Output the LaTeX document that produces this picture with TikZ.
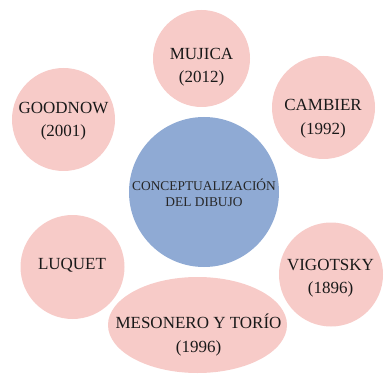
\documentclass[tikz,border=0pt]{standalone}
\usepackage{fontspec}
\setmainfont{Liberation Serif}
\usetikzlibrary{shapes.geometric}
\definecolor{pinkc}{RGB}{247,203,200}
\definecolor{bluec}{RGB}{143,170,212}
\begin{document}
\begin{tikzpicture}[x=1pt,y=-1pt,
  pinkcirc/.style={circle,fill=pinkc,draw=none,inner sep=0pt},
  bluecirc/.style={circle,fill=bluec,draw=none,inner sep=0pt},
  lbl/.style={align=center,text=black!90,inner sep=0pt,font=\fontsize{17}{23.5}\selectfont},
  clbl/.style={align=center,text=black!85,inner sep=0pt,font=\fontsize{13.4}{16.5}\selectfont}]
\useasboundingbox (0,0) rectangle (385,374);
\node[pinkcirc,minimum size=97pt] (mujc) at (201.5,58.5) {};
\node[lbl] (mujt) at (201.5,67) {MUJICA\\(2012)};
\node[pinkcirc,minimum size=103pt] (gooc) at (63.5,119.5) {};
\node[lbl] (goot) at (63.5,121) {GOODNOW\\(2001)};
\node[pinkcirc,minimum size=103pt] (camc) at (323.5,107.5) {};
\node[lbl] (camt) at (323,118.5) {CAMBIER\\(1992)};
\node[bluecirc,minimum size=150pt] (cenc) at (204,192) {};
\node[clbl] (cent) at (204,193) {CONCEPTUALIZACIÓN\\DEL DIBUJO};
\node[pinkcirc,minimum size=104pt] (luqc) at (72.5,267) {};
\node[lbl] (luqt) at (72,265.5) {LUQUET};
\node[pinkcirc,minimum size=104pt] (vigc) at (331,274.5) {};
\node[lbl] (vigt) at (330.5,278) {VIGOTSKY\\(1896)};
\node[ellipse,fill=pinkc,draw=none,inner sep=0pt,minimum width=179pt,minimum height=96pt] (mesc) at (197.5,325) {};
\node[lbl] (mest) at (198.5,335) {MESONERO Y TORÍO\\(1996)};
\end{tikzpicture}
\end{document}
